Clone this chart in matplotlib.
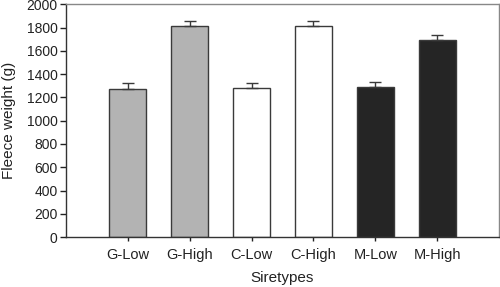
import matplotlib.pyplot as plt

# Data
categories = ['G-Low', 'G-High', 'C-Low', 'C-High', 'M-Low', 'M-High']
means = [1275, 1815, 1280, 1812, 1292, 1697]
errors = [45, 42, 46, 43, 41, 42]
colors = ['#b3b3b3', '#b3b3b3', '#ffffff', '#ffffff', '#252525', '#252525']

plt.rcParams['font.family'] = ['Liberation Sans', 'DejaVu Sans']

fig = plt.figure(figsize=(5.0, 2.87), dpi=100)
ax = fig.add_axes([0.132, 0.174, 0.866, 0.811])

pos = list(range(1, len(categories) + 1))
ax.bar(pos, means, width=0.6, color=colors, edgecolor='#3a3a3a', linewidth=1.0, zorder=2)
ax.errorbar(pos, means, yerr=[[0] * len(errors), errors], fmt='none',
            ecolor='#3a3a3a', elinewidth=1.0, capsize=4, capthick=1.0, zorder=3)

ax.set_xlim(0, 7)
ax.set_ylim(0, 2000)
ax.set_yticks(range(0, 2001, 200))
ax.set_xticks(pos)
ax.set_xticklabels(categories)

ax.tick_params(axis='both', colors='#222222', width=1.0)
ax.tick_params(axis='y', length=4, pad=2, labelsize=10)
ax.tick_params(axis='x', length=3, pad=5, labelsize=10.5)

for s in ['left', 'bottom']:
    ax.spines[s].set_color('#333333')
    ax.spines[s].set_linewidth(1.0)
for s in ['top', 'right']:
    ax.spines[s].set_color('#888888')
    ax.spines[s].set_linewidth(1.0)

ax.set_ylabel('Fleece weight (g)', fontsize=11, color='#222222', labelpad=7.5)
ax.set_xlabel('Siretypes', fontsize=11, color='#222222', labelpad=6)

fig.savefig('out.png', dpi=100)
